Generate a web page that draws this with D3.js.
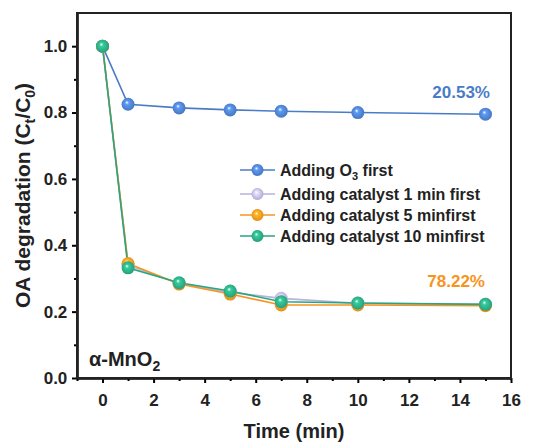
<!DOCTYPE html>
<html>
<head>
<meta charset="utf-8">
<script src="https://cdn.jsdelivr.net/npm/d3@7"></script>
<style>
  body { margin: 0; background: #fff; }
  text { font-family: "Liberation Sans", Arial, sans-serif; font-weight: bold; }
</style>
</head>
<body>
<svg id="chart" width="541" height="442"></svg>
<script>
// data
var times = [0, 1, 3, 5, 7, 10, 15];
var o3First = [1.0, 0.825, 0.814, 0.808, 0.804, 0.800, 0.795];
var cat1First = [1.0, 0.340, 0.285, 0.258, 0.240, 0.225, 0.222];
var cat5First = [1.0, 0.345, 0.283, 0.253, 0.220, 0.220, 0.218];
var cat10First = [1.0, 0.332, 0.287, 0.262, 0.230, 0.226, 0.222];
var seriesNames = ["Adding O3 first", "Adding catalyst 1 min first", "Adding catalyst 5 minfirst", "Adding catalyst 10 minfirst"];
var seriesColors = ["#4a7cc6", "#b9b2dc", "#f7941d", "#2aa57f"];
var xTicks = [0, 2, 4, 6, 8, 10, 12, 14, 16];
var yTicks = [0.0, 0.2, 0.4, 0.6, 0.8, 1.0];

var allSeries = [o3First, cat1First, cat5First, cat10First];

var svg = d3.select("#chart");
var margin = {left: 77, right: 30, top: 13, bottom: 64};
var W = 541, H = 442;

var x = d3.scaleLinear().domain([-1, 16]).range([margin.left, W - margin.right]);
var y = d3.scaleLinear().domain([0, 1.1]).range([H - margin.bottom, margin.top]);

// sphere-like gradients for the markers
var defs = svg.append("defs");
seriesColors.forEach(function(c, i) {
  var g = defs.append("radialGradient").attr("id", "ball" + i)
    .attr("cx", "0.5").attr("cy", "0.5").attr("r", "0.6")
    .attr("fx", "0.4").attr("fy", "0.35");
  g.append("stop").attr("offset", "0%").attr("stop-color", "#ffffff");
  g.append("stop").attr("offset", "25%").attr("stop-color", d3.color(c).brighter(0.6));
  g.append("stop").attr("offset", "100%").attr("stop-color", d3.color(c).darker(0.3));
});

// axes
var xAxis = d3.axisBottom(x).tickValues(xTicks).tickFormat(d3.format("d")).tickSize(5).tickSizeOuter(0);
var gx = svg.append("g").attr("transform", "translate(0," + y(0) + ")").call(xAxis);
gx.selectAll("text").attr("font-size", 17).attr("dy", "1.15em").attr("fill", "#222");
svg.append("g").attr("transform", "translate(0," + y(0) + ")")
  .call(d3.axisBottom(x).tickValues(d3.range(-1, 16, 2)).tickFormat("").tickSize(3).tickSizeOuter(0));

var yAxis = d3.axisLeft(y).tickValues(yTicks).tickFormat(d3.format(".1f")).tickSize(5).tickSizeOuter(0);
var gy = svg.append("g").attr("transform", "translate(" + x(-1) + ",0)").call(yAxis);
gy.selectAll("text").attr("font-size", 17).attr("dx", "-0.1em").attr("fill", "#222");
svg.append("g").attr("transform", "translate(" + x(-1) + ",0)")
  .call(d3.axisLeft(y).tickValues([0.1, 0.3, 0.5, 0.7, 0.9]).tickFormat("").tickSize(3).tickSizeOuter(0));

svg.selectAll(".domain").attr("stroke-width", 2);
svg.selectAll(".tick line").attr("stroke-width", 2);

// frame
svg.append("rect")
  .attr("x", x(-1)).attr("y", y(1.1))
  .attr("width", x(16) - x(-1)).attr("height", y(0) - y(1.1))
  .attr("fill", "none").attr("stroke", "#222").attr("stroke-width", 2);

// lines and markers
var line = d3.line().x(function(d, i) { return x(times[i]); }).y(function(d) { return y(d); });
allSeries.forEach(function(s, i) {
  svg.append("path").datum(s).attr("d", line)
    .attr("fill", "none").attr("stroke", seriesColors[i]).attr("stroke-width", 1.6);
});
allSeries.forEach(function(s, i) {
  svg.append("g").selectAll("circle").data(s).enter().append("circle")
    .attr("cx", function(d, j) { return x(times[j]); })
    .attr("cy", function(d) { return y(d); })
    .attr("r", 6.5)
    .attr("fill", "url(#ball" + i + ")");
});

// legend
var legend = svg.append("g").attr("transform", "translate(240,170)");
seriesNames.forEach(function(name, i) {
  var row = legend.append("g").attr("transform", "translate(0," + [0, 24, 45, 66][i] + ")");
  row.append("line").attr("x1", 0).attr("x2", 35).attr("y1", 0).attr("y2", 0)
    .attr("stroke", seriesColors[i]).attr("stroke-width", 1.6);
  row.append("circle").attr("cx", 17.5).attr("cy", 0).attr("r", 6).attr("fill", "url(#ball" + i + ")");
  var t = row.append("text").attr("x", 40).attr("y", 6).attr("font-size", 16).attr("fill", "#222");
  if (i === 0) {
    t.append("tspan").text("Adding O");
    t.append("tspan").attr("font-size", 11).attr("dy", 4).text("3");
    t.append("tspan").attr("dy", -4).text(" first");
  } else {
    t.text(name);
  }
});

// annotations
svg.append("text").attr("x", 490).attr("y", 98).attr("text-anchor", "end")
  .attr("font-size", 17).attr("fill", seriesColors[0]).text("20.53%");
svg.append("text").attr("x", 485).attr("y", 287).attr("text-anchor", "end")
  .attr("font-size", 17).attr("fill", seriesColors[2]).text("78.22%");

var mn = svg.append("text").attr("x", 89).attr("y", 366).attr("font-size", 20).attr("fill", "#222");
mn.append("tspan").text("\u03b1-MnO");
mn.append("tspan").attr("font-size", 14).attr("dy", 5).text("2");

// axis titles
svg.append("text").attr("x", (x(-1) + x(16)) / 2).attr("y", 438).attr("text-anchor", "middle")
  .attr("font-size", 20).attr("fill", "#222").text("Time (min)");

var yt = svg.append("text").attr("transform", "translate(30," + (y(0) + y(1.1)) / 2 + ") rotate(-90)")
  .attr("text-anchor", "middle").attr("font-size", 21).attr("fill", "#222");
yt.append("tspan").text("OA degradation (C");
yt.append("tspan").attr("font-size", 14).attr("dy", 5).text("t");
yt.append("tspan").attr("dy", -5).text("/C");
yt.append("tspan").attr("font-size", 14).attr("dy", 5).text("0");
yt.append("tspan").attr("dy", -5).text(")");
</script>
</body>
</html>
